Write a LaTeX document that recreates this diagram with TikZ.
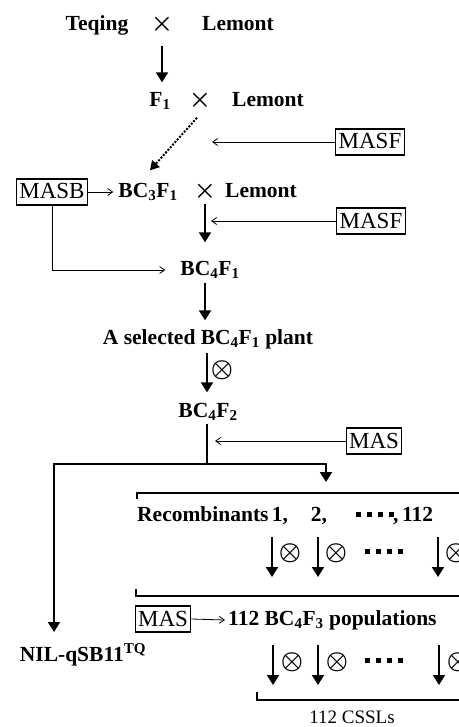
\documentclass[tikz,border=0pt]{standalone}
\usepackage{fontspec}
\setmainfont{Liberation Serif}
\usetikzlibrary{arrows.meta, positioning}
\newcommand{\sqdots}{\raisebox{2.5pt}{\rule{5pt}{5pt}\hspace{6pt}\rule{5pt}{5pt}\hspace{6pt}\rule{5pt}{5pt}\hspace{6pt}\rule{5pt}{5pt}}}

\begin{document}
\begin{tikzpicture}[x=1pt, y=-1pt,
  every node/.style={inner sep=0pt, font=\fontsize{21.5}{25}\selectfont\bfseries},
  gen/.style={text height=15pt, text depth=4pt},
  crossmark/.style={font=\fontsize{25}{25}\selectfont\boldmath},
  masbox/.style={draw, line width=1.1pt, inner xsep=3pt, minimum height=26pt, text height=15pt, text depth=1pt, font=\fontsize{23}{26}\selectfont},
  bigarrow/.style={-{Triangle[length=10pt, width=12pt]}, line width=2pt},
  feedarrow/.style={-{Straight Barb[length=5pt, width=7pt]}, line width=0.8pt},
  selfmark/.style={font=\fontsize{25}{25}\selectfont\boldmath},
  bracket/.style={line width=1.4pt},
]
\useasboundingbox (0,0) rectangle (458,727);

% Crossing with Lemont
\node[gen] (teqing) at (97,25) {Teqing};
\node[crossmark] (cross1) at (162,24) {$\times$};
\node[gen] (lemont1) at (238,25) {Lemont};

\node[gen] (f1) at (160,101) {F\textsubscript{1}};
\node[crossmark] (cross2) at (200,100) {$\times$};
\node[gen] (lemont2) at (268,101) {Lemont};
\draw[bigarrow, shorten <=11pt, shorten >=9pt] (cross1 |- teqing.south) -- (cross1 |- f1.north);

% Backcrossing with foreground selection
\node[masbox] (masf1) at (370,142) {MASF};
\coordinate (masf1tip) at (212,142);
\draw[feedarrow] (masf1.west) -- (masf1tip);

\node[masbox] (masb) at (52,192) {MASB};
\node[gen] (bc3f1) at (148,192) {BC\textsubscript{3}F\textsubscript{1}};
\node[crossmark] (cross3) at (205,191) {$\times$};
\node[gen] (lemont3) at (261,192) {Lemont};
\draw[dash pattern=on 2pt off 1.5pt, line width=2pt, -{Triangle[length=9pt, width=10pt]}] ([xshift=-3pt, yshift=-8pt]cross2.south) -- ([xshift=2pt, yshift=12pt]bc3f1.north);
\draw[feedarrow] (masb.east) -- ([xshift=-5pt]bc3f1.west);

\node[masbox] (masf2) at (371,221) {MASF};
\coordinate (masf2tip) at (211,221);
\draw[feedarrow] (masf2.west) -- (masf2tip);

\node[gen] (bc4f1) at (210,270) {BC\textsubscript{4}F\textsubscript{1}};
\draw[bigarrow, shorten <=2pt, shorten >=18pt] (cross3 |- bc3f1.south) -- (cross3 |- bc4f1.north);
\draw[feedarrow] (masb.south) |- ([xshift=-15pt]bc4f1.west);

% Selfing
\node[gen] (selected) at (208,339) {A selected BC\textsubscript{4}F\textsubscript{1} plant};
\node[gen] (bc4f2) at (208,412) {BC\textsubscript{4}F\textsubscript{2}};
\draw[bigarrow, shorten <=3pt, shorten >=9pt] (cross3 |- bc4f1.south) -- (cross3 |- selected.north);
\draw[bigarrow, shorten <=4pt, shorten >=10pt] ([xshift=-1pt]selected.south) -- ([xshift=-1pt]bc4f2.north);
\node[selfmark] (self0) at (222,370) {$\otimes$};

\node[masbox] (mas1) at (374,441) {MAS};
\coordinate (mas1tip) at (215,441);
\coordinate (split) at (207,464);
\coordinate (rectip) at (326,482);
\coordinate (niltip) at (54,632);
\draw[line width=2pt, shorten <=2pt] ([xshift=-1pt]bc4f2.south) -- (split);
\draw[feedarrow] (mas1.west) -- (mas1tip);
\draw[bigarrow] (split) -| (rectip);
\draw[bigarrow] (split) -| (niltip);

% Recombinants
\coordinate (br1) at (137,499);
\coordinate (br1end) at (470,493);
\draw[bracket] (br1) |- (br1end);
\node[gen, anchor=west] (rec) at (137,516) {Recombinants};
\node[gen, right=3pt of rec] (num1) {1,};
\node[gen] (num2) at (319,516) {2,};
\node (dotsr) at (375,516) {\sqdots};
\node[gen, anchor=west] (num112) at (393,516) {,\,112};

\foreach \col/\x in {a/272, b/318, c/438} {
  \coordinate (topa\col) at (\x,537);
  \coordinate (bota\col) at (\x,577);
  \draw[bigarrow] (topa\col) -- (bota\col);
  \node[selfmark] (selfa\col) at (\x+18,553) {$\otimes$};
}
\node (dotsa) at (384,553) {\sqdots};

\coordinate (br2) at (136,589);
\coordinate (br2end) at (470,596);
\draw[bracket] (br2) |- (br2end);

% BC4F3 populations
\node[masbox] (mas2) at (163,619) {MAS};
\node[gen, anchor=west] (bc4f3) at (228,620) {112 BC\textsubscript{4}F\textsubscript{3} populations};
\draw[feedarrow] (mas2.east) -- ([xshift=-3pt]bc4f3.west);

\node[gen] (nil) at (83,656) {NIL-qSB11\textsuperscript{TQ}};

\foreach \col/\x in {a/273, b/318, c/439} {
  \coordinate (topb\col) at (\x,645);
  \coordinate (botb\col) at (\x,685);
  \draw[bigarrow] (topb\col) -- (botb\col);
  \node[selfmark] (selfb\col) at (\x+19,662) {$\otimes$};
}
\node (dotsb) at (384,662) {\sqdots};

\coordinate (br3) at (257,692);
\coordinate (br3end) at (470,700);
\draw[bracket] (br3) |- (br3end);
\node[font=\fontsize{19}{22}\selectfont] (cssl) at (352,717) {112 CSSLs};

\end{tikzpicture}
\end{document}
